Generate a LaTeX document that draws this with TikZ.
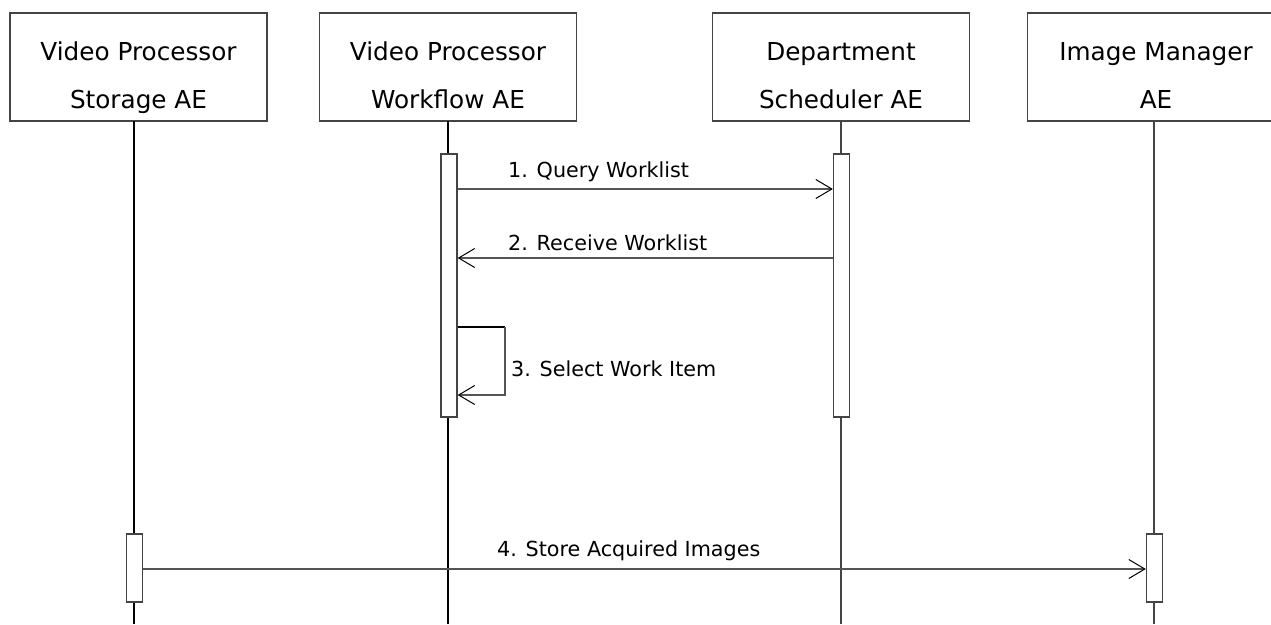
\documentclass[tikz,border=0pt]{standalone}
\usepackage{fontspec}
\setmainfont{DejaVu Sans}
\usetikzlibrary{arrows.meta}
\definecolor{edge}{HTML}{444444}
\definecolor{wire}{HTML}{555555}
\newcommand{\twolines}[2]{\rule{0pt}{40pt}#1\\#2\rule[-6pt]{0pt}{6pt}}
\tikzset{
  actor/.style={draw=edge, line width=1.4pt, fill=white, minimum width=257pt, minimum height=108pt,
    inner sep=0pt, align=center, font=\fontsize{24.7}{48}\selectfont},
  actbar/.style={draw=edge, line width=1.4pt, fill=white, minimum width=16pt, inner sep=0pt},
  lifeA/.style={draw=black, line width=2pt},
  lifeB/.style={draw=edge, line width=1.4pt},
  msg/.style={draw=wire, line width=1.3pt, -{Straight Barb[length=16pt,width=19pt,line width=1pt,color=black]}},
  msglabel/.style={anchor=base west, inner sep=0pt, font=\fontsize{20.7}{24}\selectfont},
}
\begin{document}
\begin{tikzpicture}[x=1pt,y=-1pt]
\useasboundingbox (0,0) rectangle (1271,624);
\clip (0,0) rectangle (1271,624);
% actors
\node[actor] (a1) at (138.5,67) {\twolines{Video Processor}{Storage AE}};
\node[actor] (a2) at (448,67) {\twolines{Video Processor}{Workflow AE}};
\node[actor] (a3) at (841,67) {\twolines{Department}{Scheduler AE}};
\node[actor] (a4) at (1156,67) {\twolines{Image Manager}{AE}};
% lifeline coordinates
\coordinate (t1) at (134,121);  \coordinate (b1) at (134,624);
\coordinate (t2) at (448,121);  \coordinate (b2) at (448,624);
\coordinate (t3) at (841,121);  \coordinate (b3) at (841,624);
\coordinate (t4) at (1154,121); \coordinate (b4) at (1154,624);
\draw[lifeA] (t1) -- (b1);
\draw[lifeA] (t2) -- (b2);
\draw[lifeB] (t3) -- (b3);
\draw[lifeB] (t4) -- (b4);
% activation bars
\node[actbar, minimum height=263pt] (act2) at (449,285.5) {};
\node[actbar, minimum height=263pt] (act3) at (841.5,285.5) {};
\node[actbar, minimum height=68pt] (act1) at (134.5,568) {};
\node[actbar, minimum height=68pt] (act4) at (1154.5,568) {};
% message rows
\coordinate (m1) at (0,189);
\coordinate (m2) at (0,258);
\coordinate (s1) at (0,327);
\coordinate (s2) at (0,395);
\coordinate (m4) at (0,569);
\coordinate (lp1) at (505,327);
\coordinate (lp2) at (505,395);
% 1
\draw[msg] (act2.east |- m1) -- (act3.west |- m1);
\node[msglabel] (l1) at (508,177) {1. Query Worklist};
% 2
\draw[msg] (act3.west |- m2) -- (act2.east |- m2);
\node[msglabel] (l2) at (508,250) {2. Receive Worklist};
% 3 self
\draw[draw=black, line width=2pt] (act2.east |- s1) -- (lp1);
\draw[msg] (lp1) -- (lp2) -- (act2.east |- s2);
\node[msglabel] (l3) at (511,376) {3. Select Work Item};
% 4
\draw[msg] (act1.east |- m4) -- (act4.west |- m4);
\node[msglabel] (l4) at (497,556) {4. Store Acquired Images};
\end{tikzpicture}
\end{document}
